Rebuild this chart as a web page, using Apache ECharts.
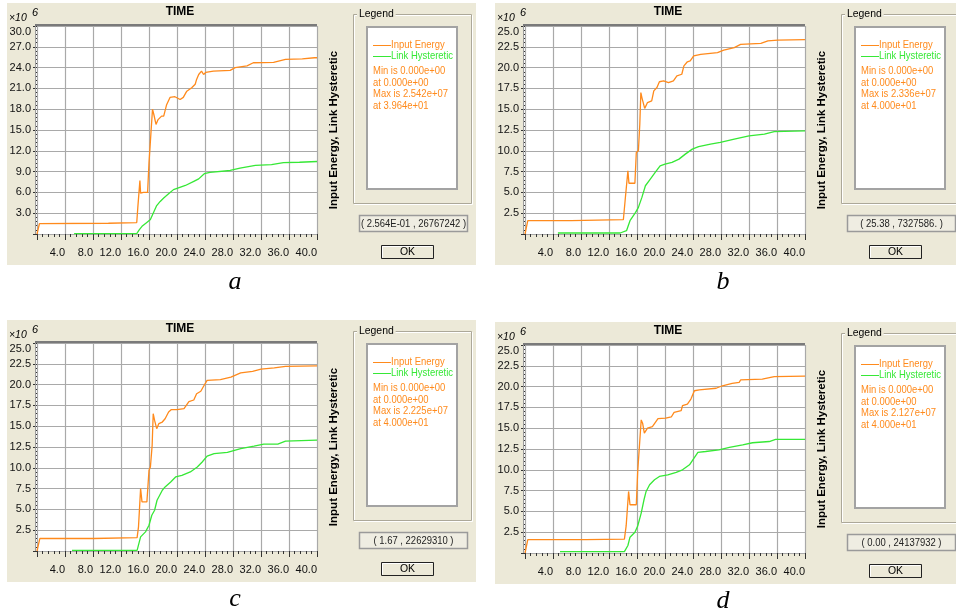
<!DOCTYPE html>
<html>
<head>
<meta charset="utf-8">
<script src="https://cdn.jsdelivr.net/npm/echarts@6/dist/echarts.min.js"></script>
<style>
  html, body { margin: 0; padding: 0; background: #ffffff; }
  #chart { width: 956px; height: 615px; }
</style>
</head>
<body>
<div id="chart"></div>
<script>
// ---- data: time in seconds, energies in units of 10^6 ----
const panelLetters = ['a', 'b', 'c', 'd'];
const seriesNames = ['Input Energy', 'Link Hysteretic'];
const yAxisMax = [30, 25, 25, 25];
const yAxisStep = [3, 2.5, 2.5, 2.5];
const cursorReadouts = [
  '( 2.564E-01 , 26767242 )',
  '( 25.38 , 7327586. )',
  '( 1.67 , 22629310 )',
  '( 0.00 , 24137932 )'
];

const inputEnergyA = [[0,0],[0.35,1.5],[0.45,1.55],[10.2,1.55],[10.3,1.65],[14.25,1.65],[14.4,3.8],[14.7,7.7],[14.8,5.9],[15.2,6.0],[15.8,6.0],[16.0,10.3],[16.2,10.5],[16.5,18.0],[16.7,17.2],[17.0,15.8],[17.3,16.5],[17.8,17.0],[18.1,17.0],[18.5,18.6],[19.0,19.7],[19.7,19.8],[20.45,19.4],[20.9,19.7],[21.4,20.6],[22.1,21.1],[22.6,21.6],[22.8,22.3],[23.1,23.0],[23.5,23.5],[23.8,23.0],[24.1,23.3],[25.2,23.5],[27.6,23.6],[28.3,24.0],[30.0,24.25],[30.9,24.7],[33.8,24.75],[35.5,25.2],[37.9,25.25],[39.64,25.42],[40,25.42]];
const linkHystereticA = [[5.3,0.05],[14.25,0.05],[14.6,0.6],[15.0,1.1],[15.6,1.6],[16.2,2.1],[16.6,3.0],[17.1,4.1],[17.6,4.7],[18.1,5.2],[18.8,5.8],[19.5,6.4],[20.2,6.65],[21.2,7.0],[22.4,7.6],[23.1,7.95],[23.9,8.7],[24.7,8.9],[27.6,9.16],[29.0,9.5],[31.2,9.9],[33.5,10.0],[35.2,10.3],[37.5,10.35],[40,10.46]];

const inputEnergyB = [[0,0],[0.4,1.6],[6.6,1.6],[6.7,1.72],[14.05,1.72],[14.3,4.0],[14.7,7.6],[14.85,6.1],[15.7,6.1],[15.9,9.8],[16.2,10.0],[16.4,13.2],[16.55,17.0],[16.7,16.4],[17.1,15.1],[17.5,15.8],[18.1,16.0],[18.4,17.2],[18.85,17.6],[19.2,18.3],[19.8,18.4],[20.5,18.2],[21.2,18.4],[21.7,19.0],[22.4,19.2],[22.7,20.2],[23.2,20.7],[23.6,20.8],[24.1,21.4],[25.1,21.6],[27.5,21.8],[28.4,22.1],[29.9,22.4],[30.8,22.8],[33.7,22.9],[34.7,23.2],[36.1,23.3],[40,23.36]];
const linkHystereticB = [[4.7,0.12],[13.6,0.12],[14.5,0.4],[15.0,1.6],[15.8,2.6],[16.2,3.2],[16.7,4.4],[17.2,5.8],[17.9,6.6],[18.6,7.4],[19.3,8.2],[20.0,8.4],[21.0,8.6],[22.0,9.0],[22.9,9.6],[23.9,10.2],[24.8,10.5],[26.5,10.8],[27.9,11.0],[29.9,11.4],[32.0,11.8],[34.2,12.0],[35.6,12.3],[40,12.4]];

const inputEnergyC = [[0,0],[0.4,1.5],[8.1,1.5],[8.2,1.6],[14.3,1.6],[14.5,2.9],[14.8,7.5],[15.0,5.9],[15.7,5.9],[16.0,9.7],[16.2,10.1],[16.45,12.7],[16.6,16.5],[16.8,15.7],[17.1,14.7],[17.4,15.3],[17.9,15.5],[18.3,15.9],[18.8,16.7],[19.2,17.0],[20.0,17.0],[21.0,17.1],[21.7,17.95],[22.4,18.15],[22.8,18.9],[23.4,19.2],[23.8,19.8],[24.3,20.5],[26.2,20.6],[27.7,20.9],[29.1,21.4],[30.8,21.6],[32.0,21.85],[33.9,22.0],[35.5,22.2],[40,22.25]];
const linkHystereticC = [[5.0,0.08],[14.3,0.08],[14.8,1.7],[15.5,2.3],[16.0,3.1],[16.4,4.3],[16.8,4.9],[17.15,6.1],[17.9,7.3],[18.3,7.7],[19.1,8.3],[19.8,8.9],[20.7,9.1],[21.9,9.5],[22.9,10.1],[23.6,10.7],[24.3,11.4],[25.3,11.7],[27.2,11.85],[29.1,12.3],[31.0,12.6],[32.4,12.85],[34.4,12.85],[35.5,13.2],[40,13.33]];

const inputEnergyD = [[0,0],[0.4,1.6],[8.7,1.6],[8.8,1.67],[14.2,1.67],[14.45,3.25],[14.8,7.4],[15.0,5.8],[15.9,5.8],[16.1,9.8],[16.3,10.0],[16.6,16.0],[16.8,15.6],[17.05,14.4],[17.5,15.0],[18.2,15.2],[19.0,16.15],[20.1,16.2],[20.9,16.35],[21.3,16.9],[22.3,17.1],[22.5,17.7],[23.2,17.9],[23.7,18.5],[24.2,19.5],[24.9,19.6],[27.3,19.8],[28.2,20.1],[29.6,20.4],[30.6,20.5],[30.8,20.8],[33.9,20.9],[35.6,21.2],[40,21.27]];
const linkHystereticD = [[5.0,0.16],[14.2,0.16],[14.7,0.9],[15.0,1.9],[15.7,2.5],[16.1,3.25],[16.6,4.8],[17.0,6.4],[17.3,7.4],[17.8,8.2],[18.5,8.8],[19.2,9.2],[20.4,9.4],[21.6,9.7],[22.5,10.0],[23.5,10.6],[24.7,12.1],[25.8,12.2],[27.7,12.4],[29.2,12.7],[31.1,13.0],[32.5,13.25],[34.9,13.4],[35.8,13.65],[40,13.65]];

const inputEnergy = [inputEnergyA, inputEnergyB, inputEnergyC, inputEnergyD];
const linkHysteretic = [linkHystereticA, linkHystereticB, linkHystereticC, linkHystereticD];

// ---- look ----
const ORANGE = '#ff8a1c';
const GREEN = '#36e836';
const PANEL = '#ece9d8';
const GRIDLINE = '#a9a9a9';
const UI_FONT = "'Liberation Sans', Arial, sans-serif";
const NARROW = 0.86; // horizontal squeeze for dialog text
// panel origins on the page
const origins = [[0, 0], [488, 0], [0, 317], [488, 319]];

// scientific notation with two-digit exponent, e.g. 2.542e+07
function sci(v) {
  return v.toExponential(3).replace(/e([+-])(\d)$/, (m, s, d) => 'e' + s + '0' + d);
}
function extremes(pts) {
  let min = pts[0], max = pts[0];
  pts.forEach(p => { if (p[1] < min[1]) min = p; if (p[1] > max[1]) max = p; });
  return { min, max };
}

const grids = [], xAxes = [], yAxes = [], series = [], graphics = [];

origins.forEach(([ox, oy], i) => {
  grids.push({ left: 37 + ox, top: 26 + oy, width: 280, height: 208, containLabel: false });

  xAxes.push({
    type: 'value', gridIndex: i, min: 0, max: 40, interval: 4, offset: 5,
    axisLine: { show: false },
    axisTick: { show: true, length: 6, lineStyle: { color: '#333', width: 1 } },
    minorTick: { show: true, splitNumber: 5, length: 3, lineStyle: { color: '#333', width: 1 } },
    axisLabel: { showMinLabel: false, align: 'right', margin: 8, color: '#111', fontSize: 11,
                 fontFamily: UI_FONT, formatter: v => v.toFixed(1) },
    splitLine: { show: true, lineStyle: { color: GRIDLINE, width: 1.2 } }
  });

  yAxes.push({
    type: 'value', gridIndex: i, min: 0, max: yAxisMax[i], interval: yAxisStep[i], offset: 3,
    axisLine: { show: false },
    axisTick: { show: true, length: 4, lineStyle: { color: '#333', width: 1 } },
    minorTick: { show: true, splitNumber: 5, length: 1, lineStyle: { color: '#333', width: 1 } },
    axisLabel: { showMinLabel: false, margin: 3, color: '#111', fontSize: 11,
                 verticalAlignMaxLabel: 'top',
                 fontFamily: UI_FONT, formatter: v => v.toFixed(1) },
    splitLine: { show: true, lineStyle: { color: GRIDLINE, width: 1.2 } }
  });

  series.push({
    name: seriesNames[0], type: 'line', xAxisIndex: i, yAxisIndex: i,
    data: inputEnergy[i], showSymbol: false, symbol: 'none',
    lineStyle: { color: ORANGE, width: 1.3 }, itemStyle: { color: ORANGE }, z: 4
  });
  series.push({
    name: seriesNames[1], type: 'line', xAxisIndex: i, yAxisIndex: i,
    data: linkHysteretic[i], showSymbol: false, symbol: 'none',
    lineStyle: { color: GREEN, width: 1.3 }, itemStyle: { color: GREEN }, z: 3
  });

  const ext = extremes(inputEnergy[i]);
  const statLines = [
    'Min is ' + sci(ext.min[1] * 1e6),
    'at ' + sci(ext.min[0]),
    'Max is ' + sci(ext.max[1] * 1e6),
    'at ' + sci(ext.max[0])
  ];

  const X = x => x + ox, Y = y => y + oy;
  const txt = (x, y, text, extra, squeeze) => ({
    type: 'text', x: X(x), y: Y(y), silent: true, scaleX: squeeze || 1,
    style: Object.assign({ text, fill: '#000', font: '11px ' + UI_FONT, align: 'left', verticalAlign: 'middle' }, extra || {})
  });

  graphics.push(
    // dialog background
    { type: 'rect', z: -10, silent: true, shape: { x: X(7), y: Y(3), width: 469, height: 262 }, style: { fill: PANEL } },
    // plot background and frame
    { type: 'rect', z: -9, silent: true, shape: { x: X(35), y: Y(25), width: 282, height: 209 }, style: { fill: '#fff' } },
    { type: 'line', z: 5, silent: true, shape: { x1: X(35.5), y1: Y(25), x2: X(35.5), y2: Y(234) }, style: { stroke: '#9c9c9c', lineWidth: 1 } },
    { type: 'line', z: 5, silent: true, shape: { x1: X(35), y1: Y(25), x2: X(317), y2: Y(25) }, style: { stroke: '#7a7a7a', lineWidth: 2 } },
    // titles
    txt(180, 12, 'TIME', { font: 'bold 12px ' + UI_FONT, align: 'center' }),
    txt(9, 18, '\u00d710', { font: 'italic 11px ' + UI_FONT }, 0.95),
    txt(32, 13, '6', { font: 'italic 11px ' + UI_FONT }),
    { type: 'text', x: X(334), y: Y(130), rotation: Math.PI / 2, silent: true,
      style: { text: 'Input Energy, Link Hysteretic', fill: '#000', font: 'bold 11.5px ' + UI_FONT, align: 'center', verticalAlign: 'middle' } },
    // legend group box
    { type: 'rect', silent: true, shape: { x: X(354.5), y: Y(15.5), width: 118, height: 189 }, style: { fill: null, stroke: '#ffffff', lineWidth: 1 } },
    { type: 'rect', silent: true, shape: { x: X(353.5), y: Y(14.5), width: 118, height: 189 }, style: { fill: null, stroke: '#aca899', lineWidth: 1 } },
    txt(357, 14, 'Legend', { backgroundColor: PANEL, padding: [0, 2, 0, 2] }, 0.95),
    { type: 'rect', silent: true, shape: { x: X(367), y: Y(27), width: 90, height: 162 }, style: { fill: '#fff', stroke: '#a3a3a3', lineWidth: 2 } },
    { type: 'line', silent: true, shape: { x1: X(373), y1: Y(45.5), x2: X(391), y2: Y(45.5) }, style: { stroke: ORANGE, lineWidth: 1 } },
    txt(391, 45, seriesNames[0], { fill: ORANGE }, NARROW),
    { type: 'line', silent: true, shape: { x1: X(373), y1: Y(56.5), x2: X(391), y2: Y(56.5) }, style: { stroke: GREEN, lineWidth: 1 } },
    txt(391, 56, seriesNames[1], { fill: GREEN }, NARROW),
    txt(373, 71, statLines[0], { fill: ORANGE }, NARROW),
    txt(373, 82.5, statLines[1], { fill: ORANGE }, NARROW),
    txt(373, 94, statLines[2], { fill: ORANGE }, NARROW),
    txt(373, 105.5, statLines[3], { fill: ORANGE }, NARROW),
    // cursor readout box
    { type: 'rect', silent: true, shape: { x: X(359.5), y: Y(215.5), width: 108, height: 16 }, style: { fill: '#efede2', stroke: '#9a9a9a', lineWidth: 1.5 } },
    txt(413.5, 223.5, cursorReadouts[i], { align: 'center', fill: '#222' }, NARROW),
    // OK button
    { type: 'rect', silent: true, shape: { x: X(381.5), y: Y(245.5), width: 52, height: 13 }, style: { fill: PANEL, stroke: '#222', lineWidth: 1 } },
    { type: 'polyline', silent: true, shape: { points: [[X(382.5), Y(257.5)], [X(382.5), Y(246.5)], [X(432.5), Y(246.5)]] }, style: { fill: null, stroke: '#fff', lineWidth: 1 } },
    txt(407.5, 252, 'OK', { align: 'center' }, 0.95),
    // panel letter
    txt(235, 282, panelLetters[i], { font: 'italic 26px "Liberation Serif", "Times New Roman", serif', align: 'center' })
  );
});

const chart = echarts.init(document.getElementById('chart'), null, { renderer: 'canvas' });
chart.setOption({
  animation: false,
  backgroundColor: '#ffffff',
  grid: grids,
  xAxis: xAxes,
  yAxis: yAxes,
  series: series,
  graphic: { elements: graphics }
});
</script>
</body>
</html>
